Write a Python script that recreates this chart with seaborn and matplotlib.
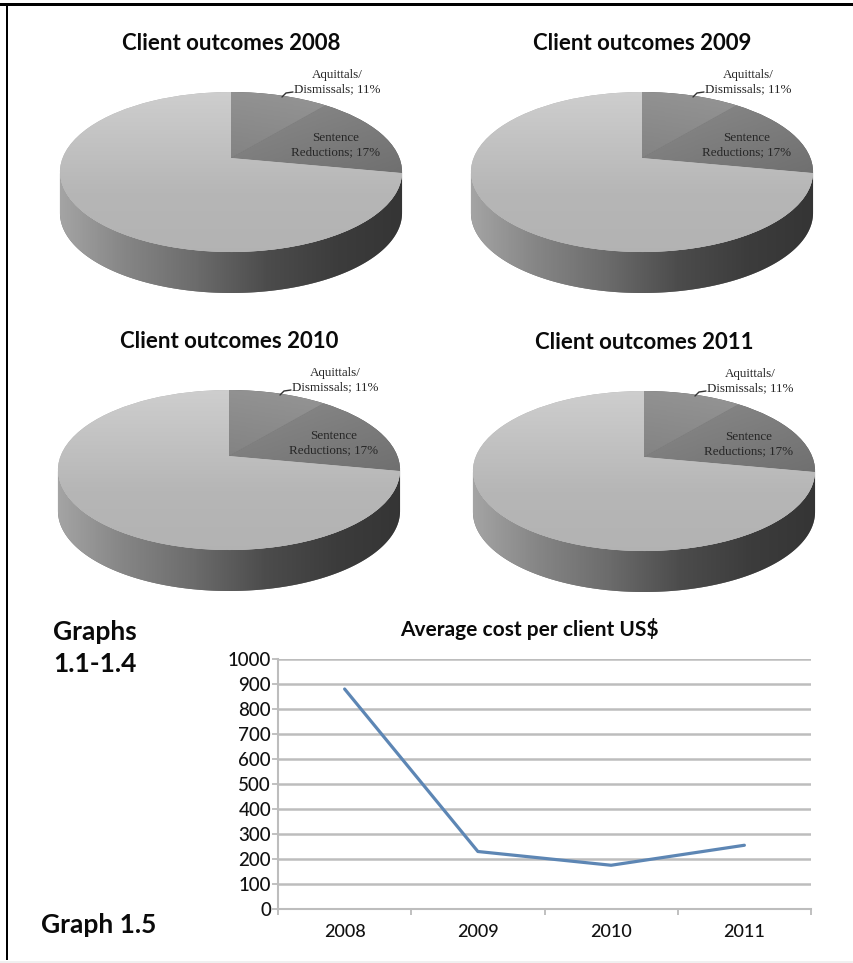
import numpy as np
import pandas as pd
import matplotlib
matplotlib.use("Agg")
import matplotlib.pyplot as plt
from matplotlib.colors import LinearSegmentedColormap
from matplotlib.patches import Polygon, Rectangle
from matplotlib.transforms import Transform
import seaborn as sns

# Outcome shares shown in every pie
outcome_years = ["2008", "2009", "2010", "2011"]
outcome_shares = [11, 17, 72]
aquittal_label = "Aquittals/\nDismissals; 11%"
sentence_label = "Sentence\nReductions; 17%"

# Average cost series
cost_years = ["2008", "2009", "2010", "2011"]
cost_values = [880, 230, 175, 255]
cost_ticks = [0, 100, 200, 300, 400, 500, 600, 700, 800, 900, 1000]

W, H = 854, 963
sns.set_theme(style="white")
plt.rcParams["font.family"] = ["Lato", "Liberation Sans", "DejaVu Sans"]
HEAD = dict(family=["Lato", "Liberation Sans"], weight="bold", color="#0a0a0a")
SERIF = dict(family=["Liberation Serif", "DejaVu Serif"], color="#262626")

fig = plt.figure(figsize=(W / 100, H / 100), dpi=100, facecolor="white")


def px_axes(left, top, right, bottom, **kw):
    return fig.add_axes([left / W, 1 - bottom / H, (right - left) / W, (bottom - top) / H], **kw)


class Tilt(Transform):
    """Projects the unit pie disc onto a receding plane, in pixel offsets."""
    input_dims = output_dims = 2
    is_separable = False
    has_inverse = False
    bend, reach_x, reach_y = 0.175, 168.4, 77.55

    def transform_non_affine(self, values):
        v = np.asarray(values, dtype=float)
        d = 1 + self.bend * v[:, 1]
        return np.column_stack([self.reach_x * v[:, 0] / d, self.reach_y * v[:, 1] / d])


def gradient(ax, clip, stops, angle, zorder):
    """Fills the clip artist with a grey ramp running along the given direction."""
    cmap = LinearSegmentedColormap.from_list("ramp", stops)
    yy, xx = np.mgrid[0:1:200j, 0:1:300j]
    ramp = xx * np.cos(np.radians(angle)) + yy * np.sin(np.radians(angle))
    ramp = (ramp - ramp.min()) / (ramp.max() - ramp.min())
    im = ax.imshow(ramp, cmap=cmap, vmin=0, vmax=1, origin="lower", aspect="auto",
                   extent=(-180, 180, -145, 75), zorder=zorder, interpolation="bilinear")
    im.set_clip_path(clip)


def draw_pie(year, cx, cy):
    ax = px_axes(cx - 180, cy - 75, cx + 180, cy + 145, facecolor="none")
    tilt = Tilt()
    wedges, _ = ax.pie(outcome_shares, startangle=90, counterclock=False, radius=1)
    ax.set_aspect("auto")
    for w in wedges:
        w.set_transform(tilt + ax.transData)
        w.set_edgecolor("none")
        w.set_zorder(3)

    # Cylinder wall: the near rim swept straight down
    theta = np.radians(np.linspace(190, 350, 160))
    rim = tilt.transform(np.column_stack([np.cos(theta), np.sin(theta)]))
    wall = Polygon(np.vstack([rim - [0, 41], rim[::-1]]), closed=True, fc="#777777", ec="none", zorder=1)
    ax.add_patch(wall)
    gradient(ax, wall, ["#a8a8a8", "#868686", "#6c6c6c", "#4c4c4c", "#3c3c3c", "#343434"], 0, 2)

    for w, stops, ang in zip(
        wedges,
        [["#5c5c5c", "#9a9a9a"], ["#545454", "#9c9c9c"], ["#b0b0b0", "#b6b6b6", "#d0d0d0"]],
        [75, 120, 90],
    ):
        w.set_facecolor(stops[0])
        gradient(ax, w, stops, ang, 4)

    ax.text(106, 76, aquittal_label, ha="center", va="center", fontsize=9.4, linespacing=1.22,
            zorder=7, clip_on=False, **SERIF)
    ax.text(105, 13, sentence_label, ha="center", va="center", fontsize=9.4, linespacing=1.22,
            zorder=7, **SERIF)
    ax.plot([51, 55, 62], [61, 65, 66], color="#333333", lw=1, zorder=6)
    ax.set_xlim(-180, 180)
    ax.set_ylim(-145, 75)
    ax.axis("off")
    fig.text(cx / W, 1 - (cy - 115) / H, f"Client outcomes {year}", ha="center", va="center",
             fontsize=16, **HEAD)


for year, cx, cy in zip(outcome_years, [231, 642, 229, 644], [158, 158, 456, 457]):
    draw_pie(year, cx, cy)

# Line chart of average cost
ax = px_axes(278, 659, 811, 909)
frame = pd.DataFrame({"year": cost_years, "cost": cost_values})
sns.lineplot(data=frame, x="year", y="cost", ax=ax, color="#5d86b4", lw=2.3, zorder=4)
ax.set_xlim(-0.5, 3.5)
ax.set_ylim(0, 1000)
ax.set_yticks(cost_ticks)
ax.set_xticks(np.arange(-0.5, 4), labels=[])
ax.set_xticks(range(4), labels=cost_years, minor=True)
ax.grid(axis="y", color="#bdbdbd", lw=1.8)
ax.tick_params(axis="y", length=4, color="#b5b5b5", width=1.2, pad=1, left=True)
ax.tick_params(axis="x", which="major", length=4, color="#b5b5b5", width=1.2, direction="out", bottom=True)
ax.tick_params(axis="x", which="minor", length=0, pad=11)
for t in ax.get_yticklabels():
    t.set(fontsize=13.5, fontweight="medium", color="#111111")
for t in ax.get_xticklabels(minor=True):
    t.set(fontsize=13, fontweight="medium", color="#111111")
ax.set_xlabel("")
ax.set_ylabel("")
sns.despine(ax=ax, top=True, right=True)
for side in ("left", "bottom"):
    ax.spines[side].set(color="#bdbdbd", lw=1.5)
ax.patch.set_alpha(0)
fig.text(529 / W, 1 - 629 / H, "Average cost per client US$", ha="center", va="center", fontsize=15, **HEAD)

fig.text(53 / W, 1 - 632 / H, "Graphs", ha="left", va="center", fontsize=19, **HEAD)
fig.text(53 / W, 1 - 664 / H, "1.1-1.4", ha="left", va="center", fontsize=19, **HEAD)
fig.text(41 / W, 1 - 925 / H, "Graph 1.5", ha="left", va="center", fontsize=19, **HEAD)

# Page frame
for x, y, w, h, c in [(0, 3, W, 3, "black"), (6, 3, 2.2, 957, "black"), (0, 960.5, W, 2.5, "#f0f0f0")]:
    fig.add_artist(Rectangle((x / W, 1 - (y + h) / H), w / W, h / H, transform=fig.transFigure,
                             fc=c, ec="none"))

fig.savefig("out.png", dpi=100)
